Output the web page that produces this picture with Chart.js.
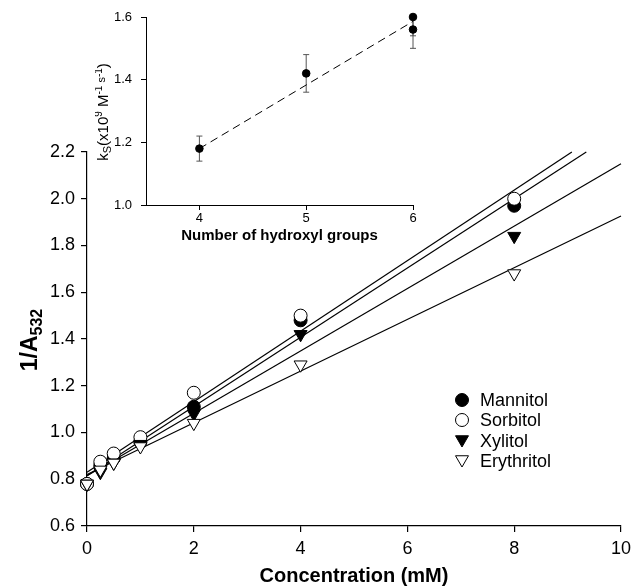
<!DOCTYPE html>
<html>
<head>
<meta charset="utf-8">
<script src="https://cdn.jsdelivr.net/npm/chart.js@4.4.0/dist/chart.umd.min.js"></script>
<style>
  html, body { margin: 0; padding: 0; background: #fff; }
  #wrap { position: relative; width: 644px; height: 586px; }
  #main { position: absolute; left: 0; top: 0; }
  #inset { position: absolute; left: 95px; top: 0; }
</style>
</head>
<body>
<div id="wrap">
  <canvas id="main" width="644" height="586"></canvas>
  <canvas id="inset" width="330" height="250"></canvas>
</div>
<script>
// main plot: 1/A532 vs concentration (mM)
var conc = [0, 0.25, 0.5, 1, 2, 4, 8];
var mannitol   = [0.78, 0.86, 0.89, 0.96, 1.11, 1.48, 1.97];
var sorbitol   = [0.78, 0.875, 0.91, 0.98, 1.17, 1.50, 2.00];
var xylitol    = [0.78, 0.83, 0.87, 0.95, 1.08, 1.42, 1.84];
var erythritol = [0.78, 0.84, 0.87, 0.94, 1.04, 1.29, 1.68];

// fitted lines, end points: [x0, y0, x1, y1]
var fitMannitol   = [0, 0.815, 9.35, 2.2];
var fitSorbitol   = [0, 0.83, 9.08, 2.2];
var fitXylitol    = [0, 0.815, 10, 2.15];
var fitErythritol = [0, 0.82, 10, 1.926];

var xTicks = [0, 2, 4, 6, 8, 10];
var yTicks = [0.6, 0.8, 1.0, 1.2, 1.4, 1.6, 1.8, 2.0, 2.2];

// inset: ks vs number of hydroxyl groups
var hydroxyl = [4, 5, 6, 6];
var ks       = [1.18, 1.42, 1.60, 1.56];
var ksErr    = [0.04, 0.06, 0.06, 0.06];
var ksFit    = [4, 1.18, 6, 1.586];
var insetXTicks = [4, 5, 6];
var insetYTicks = [1.0, 1.2, 1.4, 1.6];

var FONT = "'Liberation Sans', Arial, sans-serif";
Chart.defaults.font.family = FONT;
Chart.defaults.color = '#000';

function pts(xs, ys) {
  return xs.map(function(x, i) { return { x: x, y: ys[i] }; });
}
function fitPts(f) {
  return [{ x: f[0], y: f[1] }, { x: f[2], y: f[3] }];
}
function tickList(arr) {
  return function(scale) { scale.ticks = arr.map(function(v) { return { value: v }; }); };
}

// same geometry as chart.js circle / triangle points
function marker(ctx, style, x, y, r, filled) {
  ctx.beginPath();
  if (style === 'circle') {
    ctx.arc(x, y, r, 0, Math.PI * 2);
  } else {
    var rad = Math.PI;
    for (var k = 0; k < 3; k++) {
      var px = x + Math.sin(rad) * r, py = y - Math.cos(rad) * r;
      if (k === 0) ctx.moveTo(px, py); else ctx.lineTo(px, py);
      rad += Math.PI * 2 / 3;
    }
    ctx.closePath();
  }
  ctx.fillStyle = filled ? '#000' : '#fff';
  ctx.fill();
  ctx.lineWidth = 1;
  ctx.strokeStyle = '#000';
  ctx.stroke();
}

// text with sub/superscripts, rotated -90deg, centred on (cx, cy) with baseline at cx
function richVertical(ctx, parts, cx, cy) {
  ctx.save();
  ctx.translate(cx, cy);
  ctx.rotate(-Math.PI / 2);
  ctx.textBaseline = 'alphabetic';
  ctx.textAlign = 'left';
  var total = 0;
  parts.forEach(function(p) {
    ctx.font = p.font;
    p.w = ctx.measureText(p.t).width;
    total += p.w;
  });
  var x = -total / 2;
  parts.forEach(function(p) {
    ctx.font = p.font;
    ctx.fillStyle = '#000';
    ctx.fillText(p.t, x, p.dy);
    x += p.w;
  });
  ctx.restore();
}

var series = [
  { label: 'Mannitol',   data: mannitol,   style: 'circle',   filled: true,  order: 4 },
  { label: 'Sorbitol',   data: sorbitol,   style: 'circle',   filled: false, order: 3 },
  { label: 'Xylitol',    data: xylitol,    style: 'triangle', filled: true,  order: 2 },
  { label: 'Erythritol', data: erythritol, style: 'triangle', filled: false, order: 1 }
];
var fits = [fitMannitol, fitSorbitol, fitXylitol, fitErythritol];

var datasets = [];
fits.forEach(function(f) {
  datasets.push({
    data: fitPts(f), showLine: true, borderColor: '#000', borderWidth: 1.2,
    pointRadius: 0, fill: false, order: 10, clip: false
  });
});
series.forEach(function(s) {
  datasets.push({
    label: s.label,
    data: pts(conc, s.data),
    showLine: false,
    pointStyle: s.style,
    pointRotation: s.style === 'triangle' ? 180 : 0,
    pointRadius: s.style === 'circle' ? 6.5 : 7.5,
    pointBackgroundColor: s.filled ? '#000' : '#fff',
    pointBorderColor: '#000',
    pointBorderWidth: 1,
    order: s.order,
    clip: false
  });
});

var mainDecor = {
  id: 'mainDecor',
  afterDraw: function(chart) {
    var ctx = chart.ctx;
    richVertical(ctx, [
      { t: '1/A', font: 'bold 23px ' + FONT, dy: 0 },
      { t: '532', font: 'bold 16px ' + FONT, dy: 5 }
    ], 37, 340);

    // legend
    var lx = 462, tx = 480, ly = [400, 420, 441, 461];
    ctx.save();
    series.forEach(function(s, i) {
      var r = s.style === 'circle' ? 6.5 : 7.5;
      marker(ctx, s.style, lx, ly[i] - (s.style === 'triangle' ? 1.5 : 0), r, s.filled);
      ctx.font = '18px ' + FONT;
      ctx.fillStyle = '#000';
      ctx.textBaseline = 'middle';
      ctx.textAlign = 'left';
      ctx.fillText(s.label, tx, ly[i] + 1);
    });
    ctx.restore();
  }
};

new Chart(document.getElementById('main'), {
  type: 'scatter',
  data: { datasets: datasets },
  options: {
    responsive: false,
    animation: false,
    events: [],
    layout: { padding: { left: 0, right: 23, top: 152, bottom: 0 } },
    plugins: { legend: { display: false }, tooltip: { enabled: false } },
    scales: {
      x: {
        type: 'linear', min: 0, max: 10,
        afterBuildTicks: tickList(xTicks),
        afterFit: function(s) { s.height = 60; },
        grid: { drawOnChartArea: false, drawTicks: true, tickLength: 6, color: '#000', lineWidth: 1.2 },
        border: { display: true, color: '#000', width: 1.2 },
        ticks: { font: { size: 18 }, padding: 6, color: '#000', maxRotation: 0, autoSkip: false },
        title: { display: true, text: 'Concentration (mM)', font: { size: 20, weight: 'bold', lineHeight: 1 }, padding: 0, color: '#000' }
      },
      y: {
        type: 'linear', min: 0.6, max: 2.2,
        afterBuildTicks: tickList(yTicks),
        afterFit: function(s) { s.width = 87; },
        grid: { drawOnChartArea: false, drawTicks: true, tickLength: 6, color: '#000', lineWidth: 1.2 },
        border: { display: true, color: '#000', width: 1.2 },
        ticks: { font: { size: 18 }, padding: 6, color: '#000', autoSkip: false,
                 callback: function(v) { return v.toFixed(1); } }
      }
    }
  },
  plugins: [mainDecor]
});

// inset
var insetDecor = {
  id: 'insetDecor',
  beforeDatasetsDraw: function(chart) {
    var ctx = chart.ctx, xs = chart.scales.x, ys = chart.scales.y, a = chart.chartArea;
    ctx.save();
    ctx.beginPath();
    ctx.rect(a.left - 10, a.top, a.right - a.left + 20, a.bottom - a.top);
    ctx.clip();
    ctx.strokeStyle = '#555';
    ctx.lineWidth = 1;
    hydroxyl.forEach(function(h, i) {
      var px = xs.getPixelForValue(h);
      var y1 = ys.getPixelForValue(ks[i] - ksErr[i]);
      var y2 = ys.getPixelForValue(ks[i] + ksErr[i]);
      ctx.beginPath();
      ctx.moveTo(px, y1); ctx.lineTo(px, y2);
      ctx.moveTo(px - 3, y1); ctx.lineTo(px + 3, y1);
      ctx.moveTo(px - 3, y2); ctx.lineTo(px + 3, y2);
      ctx.stroke();
    });
    ctx.restore();
  },
  afterDraw: function(chart) {
    var f = function(s) { return s + 'px ' + FONT; };
    richVertical(chart.ctx, [
      { t: 'k', font: f(15), dy: 0 },
      { t: 'S', font: f(11), dy: 3 },
      { t: '(x10', font: f(15), dy: 0 },
      { t: '9', font: f(10), dy: -6 },
      { t: ' M', font: f(15), dy: 0 },
      { t: '-1', font: f(10), dy: -6 },
      { t: ' s', font: f(11), dy: -3 },
      { t: '-1', font: f(10), dy: -6 },
      { t: ')', font: f(15), dy: 0 }
    ], 13, 112);
  }
};

new Chart(document.getElementById('inset'), {
  type: 'scatter',
  data: {
    datasets: [
      { data: pts(hydroxyl, ks), showLine: false, pointStyle: 'circle', pointRadius: 3.8,
        pointBackgroundColor: '#000', pointBorderColor: '#000', pointBorderWidth: 1, order: 1, clip: false },
      { data: fitPts(ksFit), showLine: true, borderColor: '#000', borderWidth: 1,
        borderDash: [8, 5], pointRadius: 0, fill: false, order: 2, clip: false }
    ]
  },
  options: {
    responsive: false,
    animation: false,
    events: [],
    layout: { padding: { left: 0, right: 12, top: 17, bottom: 0 } },
    plugins: { legend: { display: false }, tooltip: { enabled: false } },
    scales: {
      x: {
        type: 'linear', min: 3.5, max: 6,
        afterBuildTicks: tickList(insetXTicks),
        afterFit: function(s) { s.height = 45; },
        grid: { drawOnChartArea: false, drawTicks: true, tickLength: 5, color: '#000', lineWidth: 1 },
        border: { display: true, color: '#000', width: 1 },
        ticks: { font: { size: 13 }, padding: 1, color: '#000', maxRotation: 0, autoSkip: false },
        title: { display: true, text: 'Number of hydroxyl groups', font: { size: 15, weight: 'bold' }, padding: { top: 0, bottom: 5 }, color: '#000' }
      },
      y: {
        type: 'linear', min: 1.0, max: 1.6,
        afterBuildTicks: tickList(insetYTicks),
        afterFit: function(s) { s.width = 51; },
        grid: { drawOnChartArea: false, drawTicks: true, tickLength: 5, color: '#000', lineWidth: 1 },
        border: { display: true, color: '#000', width: 1 },
        ticks: { font: { size: 13 }, padding: 9, color: '#000', autoSkip: false,
                 callback: function(v) { return v.toFixed(1); } }
      }
    }
  },
  plugins: [insetDecor]
});
</script>
</body>
</html>
